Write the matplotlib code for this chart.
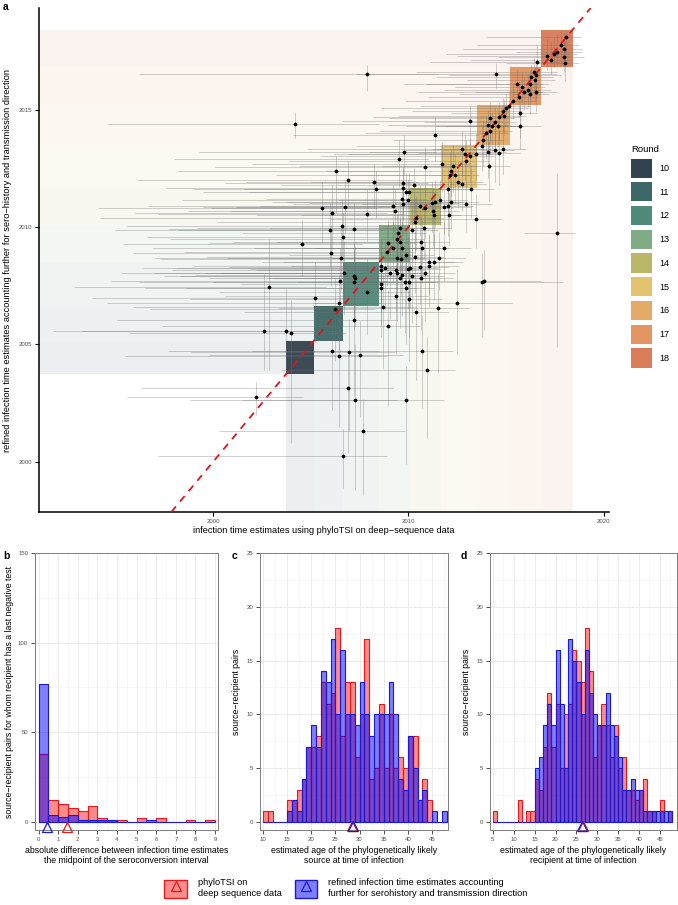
import numpy as np
import matplotlib
matplotlib.use("Agg")
from matplotlib import pyplot as plt
from matplotlib.patches import Rectangle, Patch
from matplotlib.lines import Line2D
from matplotlib.legend_handler import HandlerTuple

plt.rcParams['font.family'] = ['Liberation Sans', 'DejaVu Sans']

# survey rounds: calendar window of each round
rounds = ['10', '11', '12', '13', '14', '15', '16', '17', '18']
round_start = [2003.75, 2005.15, 2006.65, 2008.5, 2010.1, 2011.65, 2013.5, 2015.2, 2016.8]
round_end = [2005.15, 2006.65, 2008.5, 2010.1, 2011.65, 2013.5, 2015.2, 2016.8, 2018.4]
round_colors = ['#33434F', '#3E6867', '#4F8A7B', '#80AC85', '#BAB76A',
                '#E5C26F', '#E4AA68', '#E29560', '#D87D58']

# panel a: phyloTSI estimate (x) vs refined estimate (y), with intervals
tsi_mid = [
    2018.06, 2017.80, 2017.97, 2017.45, 2017.60, 2017.07, 2017.95, 2018.00, 2017.30, 2016.60,
    2014.50, 2007.90, 2016.40, 2016.55, 2016.27, 2016.47, 2016.20, 2015.53, 2015.80, 2016.13,
    2016.52, 2015.90, 2016.24, 2015.67, 2015.36, 2015.16, 2015.70, 2015.70, 2015.00, 2014.85,
    2014.90, 2014.65, 2014.17, 2013.15, 2014.42, 2014.05, 2014.30, 2014.60, 2014.17, 2013.97,
    2013.80, 2011.38, 2004.19, 2013.74, 2014.42, 2014.05, 2014.65, 2014.85, 2013.45, 2012.75,
    2012.90, 2014.13, 2013.15, 2012.97, 2011.70, 2012.30, 2012.20, 2012.12, 2012.38, 2012.55,
    2012.75, 2013.20, 2012.03, 2010.87, 2009.78, 2009.50, 2006.28, 2006.90, 2008.24, 2008.36,
    2009.73, 2009.73, 2010.30, 2009.85, 2010.05, 2009.65, 2010.00, 2009.22, 2009.30, 2009.73,
    2010.60, 2010.86, 2011.20, 2011.35, 2011.60, 2011.80, 2012.00, 2012.20, 2012.94, 2011.24,
    2011.32, 2012.07, 2013.45, 2010.41, 2010.33, 2010.80, 2010.16, 2007.86, 2005.60, 2006.10,
    2006.75, 2007.20, 2006.60, 2006.00, 2006.67, 2006.04, 2006.57, 2004.55, 2017.60, 2009.57,
    2009.48, 2009.40, 2009.57, 2008.97, 2009.22, 2009.65, 2008.92, 2009.40, 2009.60, 2009.90,
    2010.64, 2010.67, 2011.80, 2011.07, 2011.32, 2011.56, 2010.33, 2010.60, 2010.08, 2008.80,
    2008.62, 2006.70, 2007.20, 2007.27, 2007.20, 2006.50, 2005.20, 2007.86, 2008.62, 2008.62,
    2008.62, 2009.36, 2009.40, 2009.05, 2009.65, 2009.57, 2010.00, 2010.16, 2009.80, 2010.03,
    2009.87, 2010.62, 2010.84, 2011.05, 2008.72, 2009.36, 2010.03, 2010.38, 2011.53, 2012.50,
    2013.74, 2013.87, 2008.93, 2007.20, 2006.46, 2006.24, 2006.10, 2006.46, 2006.96, 2007.52,
    2010.70, 2010.93, 2006.92, 2007.26, 2009.90, 2007.69, 2006.63, 2002.88, 2002.60, 2003.73,
    2003.97, 2002.20]
tsi_lo = [
    2014.0, 2013.5, 2012.8, 2011.9, 2015.5, 2012.5, 2014.6, 2015.0, 2013.2, 2011.1,
    2007.3, 1996.2, 2010.4, 2012.0, 2011.4, 2013.0, 2010.9, 2009.7, 2012.4, 2011.8,
    2013.4, 2010.5, 2012.6, 2011.0, 2009.9, 2010.6, 2012.2, 2011.9, 2008.6, 2010.2,
    2009.5, 2008.2, 2009.0, 2006.6, 2010.8, 2008.9, 2009.9, 2011.4, 2008.5, 2007.8,
    2009.2, 2004.1, 1994.6, 2007.3, 2009.8, 2008.0, 2010.5, 2011.2, 2006.2, 2004.8,
    2006.9, 2008.7, 2005.5, 2003.9, 2002.0, 2004.4, 2005.8, 2003.2, 2007.0, 2005.0,
    2008.2, 2006.3, 2001.6, 2000.1, 1999.3, 1998.0, 1998.2, 1996.1, 2001.7, 1999.0,
    2000.6, 1997.6, 2003.5, 1999.5, 2001.8, 2002.7, 1998.4, 1996.7, 2000.9, 2004.1,
    2002.4, 1999.9, 2004.9, 2003.0, 2006.4, 2001.2, 2005.7, 2003.8, 2007.6, 1998.7,
    2002.2, 2004.5, 2006.0, 1994.2, 2000.2, 2002.9, 1995.0, 1997.2, 1994.1, 1996.0,
    1999.5, 1997.7, 1995.6, 1998.2, 1996.6, 1995.9, 1997.0, 1995.4, 2015.9, 1999.2,
    2001.5, 1997.8, 2003.3, 1999.8, 1996.9, 2002.1, 1998.5, 2000.7, 1997.3, 2003.9,
    2001.0, 2004.6, 2005.2, 2002.5, 2003.6, 2006.1, 1999.7, 2000.8, 1998.1, 1996.4,
    1999.0, 1995.3, 1997.5, 1999.8, 1996.2, 1994.8, 1993.8, 2000.3, 1997.9, 2001.4,
    1998.6, 2002.2, 1997.0, 2000.4, 1999.1, 2003.0, 2001.9, 1998.3, 2000.0, 2004.3,
    1996.5, 2002.8, 1999.6, 2004.0, 1995.9, 2000.6, 1998.8, 2001.6, 2003.4, 2005.1,
    2008.3, 2006.8, 1997.4, 1995.1, 1994.6, 1996.8, 1997.7, 1995.5, 1998.9, 1999.8,
    2002.0, 2003.5, 1996.3, 1998.8, 2001.5, 2000.3, 1997.2, 1992.9, 1991.8, 1993.3,
    1995.7, 1995.6]
tsi_hi = [
    2018.9, 2018.7, 2018.9, 2018.6, 2018.9, 2018.3, 2019.0, 2018.7, 2018.4, 2018.1,
    2017.6, 2011.5, 2017.6, 2017.8, 2017.4, 2017.5, 2017.2, 2016.9, 2017.0, 2017.3,
    2017.6, 2016.9, 2017.2, 2016.6, 2016.5, 2016.2, 2016.6, 2016.8, 2016.1, 2015.8,
    2016.0, 2015.7, 2015.4, 2014.8, 2015.5, 2015.2, 2015.6, 2015.9, 2015.3, 2015.1,
    2014.9, 2013.6, 2008.5, 2014.9, 2015.4, 2015.0, 2015.7, 2016.0, 2014.6, 2014.2,
    2014.3, 2015.2, 2014.4, 2014.1, 2013.2, 2013.5, 2013.4, 2013.2, 2013.6, 2013.8,
    2014.0, 2014.4, 2013.1, 2012.2, 2011.4, 2011.0, 2009.5, 2010.2, 2010.5, 2010.9,
    2011.0, 2011.2, 2011.6, 2011.3, 2011.5, 2010.9, 2011.4, 2010.7, 2010.8, 2011.1,
    2012.0, 2012.3, 2012.6, 2012.8, 2013.0, 2013.2, 2013.3, 2013.6, 2014.3, 2012.6,
    2012.7, 2013.5, 2014.8, 2011.8, 2011.7, 2012.2, 2011.5, 2009.9, 2008.4, 2008.9,
    2009.3, 2009.8, 2009.1, 2008.7, 2009.3, 2008.9, 2009.4, 2007.6, 2018.5, 2011.1,
    2010.9, 2010.8, 2010.9, 2010.4, 2010.6, 2011.0, 2010.3, 2010.8, 2011.0, 2011.3,
    2012.1, 2012.0, 2013.2, 2012.4, 2012.8, 2012.9, 2011.8, 2012.0, 2011.5, 2010.3,
    2010.1, 2009.0, 2009.4, 2009.5, 2009.3, 2008.9, 2007.7, 2010.1, 2010.3, 2010.2,
    2010.4, 2010.9, 2010.8, 2010.6, 2011.0, 2011.1, 2011.6, 2011.8, 2011.3, 2011.5,
    2011.3, 2012.3, 2012.4, 2012.6, 2010.4, 2011.0, 2011.7, 2012.0, 2013.1, 2015.3,
    2017.9, 2016.8, 2010.6, 2009.4, 2008.6, 2008.3, 2008.5, 2008.9, 2009.3, 2009.7,
    2012.3, 2012.4, 2009.2, 2009.4, 2011.8, 2009.8, 2008.9, 2005.8, 2005.4, 2006.3,
    2006.8, 2004.6]
ref_mid = [
    2018.07, 2017.75, 2017.57, 2017.36, 2017.45, 2017.28, 2017.22, 2016.98, 2017.10, 2017.03,
    2016.50, 2016.50, 2016.60, 2016.47, 2016.37, 2016.26, 2016.10, 2016.09, 2015.97, 2015.83,
    2015.76, 2015.73, 2015.66, 2015.55, 2015.35, 2015.14, 2014.84, 2014.29, 2015.05, 2014.94,
    2014.72, 2014.67, 2014.62, 2014.50, 2014.45, 2014.34, 2014.29, 2014.30, 2014.10, 2014.00,
    2013.70, 2013.90, 2014.38, 2013.45, 2013.28, 2013.18, 2013.14, 2013.32, 2013.10, 2013.30,
    2013.10, 2012.60, 2013.00, 2012.80, 2012.70, 2012.58, 2012.37, 2012.23, 2012.23, 2011.90,
    2011.83, 2011.60, 2011.60, 2012.54, 2013.18, 2012.90, 2012.38, 2012.00, 2011.93, 2011.60,
    2011.87, 2011.65, 2011.77, 2011.47, 2011.47, 2011.20, 2011.15, 2010.90, 2010.70, 2010.98,
    2010.90, 2010.80, 2011.00, 2011.08, 2011.15, 2010.84, 2010.90, 2011.05, 2010.97, 2010.66,
    2010.51, 2010.50, 2010.34, 2010.39, 2010.20, 2009.97, 2009.87, 2010.55, 2010.80, 2010.60,
    2010.84, 2009.90, 2010.04, 2009.87, 2009.56, 2008.90, 2008.67, 2009.28, 2009.73, 2009.97,
    2009.73, 2009.47, 2009.35, 2009.30, 2009.10, 2009.10, 2008.92, 2008.70, 2008.64, 2008.80,
    2009.37, 2009.10, 2009.10, 2008.52, 2008.52, 2008.70, 2008.74, 2008.30, 2008.27, 2008.25,
    2008.36, 2008.06, 2007.90, 2007.82, 2007.65, 2007.70, 2006.97, 2007.22, 2008.17, 2007.57,
    2007.39, 2008.17, 2008.06, 2008.06, 2007.96, 2007.82, 2008.20, 2007.91, 2007.67, 2007.65,
    2007.39, 2007.82, 2008.06, 2008.34, 2006.61, 2007.05, 2006.94, 2006.37, 2006.54, 2006.76,
    2007.66, 2007.70, 2005.79, 2006.04, 2006.75, 2006.50, 2004.72, 2004.49, 2004.70, 2004.55,
    2004.72, 2003.90, 2003.16, 2002.64, 2002.64, 2001.32, 2000.26, 2007.46, 2005.57, 2005.57,
    2005.47, 2002.75]
ref_lo = [
    2017.4, 2017.0, 2016.9, 2016.8, 2016.9, 2016.7, 2016.6, 2016.2, 2016.5, 2016.4,
    2015.9, 2015.8, 2015.8, 2015.5, 2015.6, 2015.3, 2015.4, 2015.3, 2015.2, 2015.1,
    2014.9, 2015.0, 2014.8, 2014.7, 2014.6, 2014.4, 2013.8, 2013.3, 2014.3, 2014.1,
    2013.9, 2013.7, 2013.6, 2013.5, 2013.4, 2013.3, 2013.2, 2013.4, 2013.1, 2012.9,
    2012.6, 2012.8, 2013.8, 2012.4, 2011.9, 2012.1, 2011.8, 2012.2, 2012.0, 2012.2,
    2012.0, 2011.1, 2011.9, 2011.7, 2011.5, 2011.5, 2011.3, 2011.1, 2011.0, 2010.8,
    2010.7, 2010.4, 2010.5, 2011.3, 2012.2, 2011.7, 2010.6, 2010.9, 2010.8, 2010.4,
    2010.6, 2010.3, 2010.4, 2010.1, 2010.1, 2010.0, 2009.9, 2009.6, 2009.4, 2009.7,
    2009.6, 2009.5, 2009.8, 2010.0, 2010.1, 2009.7, 2009.6, 2009.9, 2009.8, 2009.2,
    2009.1, 2009.2, 2009.1, 2009.0, 2008.9, 2008.7, 2008.5, 2009.4, 2009.3, 2009.0,
    2009.7, 2008.5, 2008.7, 2008.3, 2008.1, 2007.5, 2007.3, 2007.9, 2004.9, 2008.6,
    2008.4, 2008.1, 2008.0, 2007.9, 2007.6, 2007.7, 2007.5, 2007.2, 2007.1, 2007.4,
    2007.9, 2007.6, 2007.7, 2007.1, 2006.9, 2007.3, 2007.2, 2006.7, 2006.6, 2006.5,
    2006.8, 2006.3, 2006.0, 2005.8, 2005.6, 2005.9, 2005.1, 2005.4, 2006.4, 2005.8,
    2005.3, 2006.4, 2006.0, 2006.1, 2006.2, 2005.7, 2006.5, 2005.9, 2005.5, 2005.3,
    2005.0, 2005.6, 2006.0, 2006.6, 2004.0, 2004.6, 2004.3, 2003.5, 2003.8, 2004.6,
    2005.3, 2005.6, 2002.4, 2002.8, 2004.7, 2004.3, 2002.2, 2001.5, 2001.3, 2001.9,
    2002.3, 2001.0, 2000.4, 1998.8, 1999.9, 1998.6, 1998.9, 2003.9, 2003.9, 2003.6,
    2000.8, 2002.0]
ref_hi = [
    2018.4, 2018.4, 2018.3, 2018.1, 2018.2, 2018.0, 2018.1, 2017.9, 2017.9, 2017.7,
    2017.0, 2016.9, 2017.2, 2017.0, 2016.9, 2016.8, 2016.7, 2016.7, 2016.6, 2016.5,
    2016.6, 2016.4, 2016.3, 2016.2, 2016.0, 2015.8, 2015.5, 2015.2, 2015.7, 2015.5,
    2015.4, 2015.3, 2015.3, 2015.2, 2015.1, 2015.0, 2014.9, 2015.0, 2014.8, 2014.7,
    2014.5, 2014.7, 2014.9, 2014.3, 2014.2, 2014.0, 2014.1, 2014.3, 2014.0, 2014.1,
    2013.9, 2013.6, 2013.8, 2013.7, 2013.6, 2013.5, 2013.3, 2013.2, 2013.1, 2012.8,
    2012.8, 2012.6, 2012.5, 2013.4, 2013.9, 2013.7, 2013.0, 2012.8, 2012.7, 2012.4,
    2012.6, 2012.5, 2012.5, 2012.3, 2012.3, 2012.0, 2012.0, 2011.8, 2011.6, 2011.9,
    2011.8, 2011.7, 2011.9, 2012.0, 2012.0, 2011.8, 2011.8, 2012.0, 2011.9, 2011.6,
    2011.5, 2011.5, 2011.4, 2011.3, 2011.2, 2011.0, 2010.9, 2011.6, 2011.9, 2011.8,
    2011.9, 2011.0, 2011.2, 2011.0, 2010.6, 2010.1, 2009.9, 2010.3, 2012.3, 2011.0,
    2010.8, 2010.5, 2010.4, 2010.3, 2010.2, 2010.2, 2010.0, 2009.8, 2009.7, 2009.9,
    2010.5, 2010.3, 2010.2, 2009.7, 2009.7, 2009.8, 2009.8, 2009.5, 2009.4, 2009.4,
    2009.5, 2009.4, 2009.3, 2009.2, 2009.0, 2009.1, 2008.5, 2008.7, 2009.5, 2009.0,
    2008.8, 2009.5, 2009.4, 2009.4, 2009.3, 2009.2, 2009.6, 2009.3, 2009.1, 2009.0,
    2008.9, 2009.2, 2009.4, 2009.6, 2008.0, 2008.4, 2008.3, 2007.8, 2008.0, 2008.2,
    2008.9, 2009.0, 2007.3, 2007.4, 2008.0, 2007.8, 2006.1, 2005.9, 2006.1, 2006.0,
    2006.2, 2005.3, 2004.6, 2005.0, 2004.1, 2002.7, 2001.4, 2009.5, 2008.0, 2007.4,
    2006.9, 2003.4]

# panel b: absolute difference to seroconversion midpoint (bins of 0.5 years)
diff_bin = [0.0, 0.5, 1.0, 1.5, 2.0, 2.5, 3.0, 3.5, 4.0, 4.5, 5.0, 5.5, 6.0, 6.5, 7.0, 7.5, 8.0, 8.5]
diff_tsi = [38, 12, 10, 8, 6, 9, 2, 1, 1, 0, 2, 0, 2, 0, 0, 1, 0, 1]
diff_ref = [77, 4, 3, 4, 1, 1, 1, 1, 0, 0, 0, 1, 0, 0, 0, 0, 0, 0]
diff_med = {'tsi': 1.46, 'ref': 0.41}

# panel c: age of source at infection (1-year bins)
src_age = [10, 11, 12, 13, 14, 15, 16, 17, 18, 19, 20, 21, 22, 23, 24, 25, 26, 27, 28,
           29, 30, 31, 32, 33, 34, 35, 36, 37, 38, 39, 40, 41, 42, 43, 44, 45, 46, 47]
src_tsi = [1, 1, 0, 0, 0, 2, 2, 3, 4, 7, 7, 8, 13, 11, 12, 18, 8, 13, 13,
           6, 10, 17, 4, 5, 11, 5, 10, 5, 6, 5, 8, 8, 2, 4, 2, 0, 0, 0]
src_ref = [0, 0, 0, 0, 0, 1, 2, 1, 4, 7, 9, 7, 14, 13, 17, 10, 16, 10, 10,
           9, 13, 10, 8, 10, 10, 10, 13, 10, 4, 3, 8, 5, 2, 3, 0, 1, 0, 1]
src_med = {'tsi': 28.4, 'ref': 28.6}

# panel d: age of recipient at infection (1-year bins)
rec_age = [5, 6, 7, 8, 9, 10, 11, 12, 13, 14, 15, 16, 17, 18, 19, 20, 21, 22, 23, 24, 25, 26,
           27, 28, 29, 30, 31, 32, 33, 34, 35, 36, 37, 38, 39, 40, 41, 42, 43, 44, 45, 46, 47]
rec_tsi = [1, 0, 0, 0, 0, 0, 2, 0, 1, 1, 4, 3, 7, 12, 7, 11, 5, 10, 11, 16, 15, 13,
           18, 14, 6, 9, 11, 9, 6, 9, 5, 6, 3, 3, 2, 3, 4, 1, 1, 0, 2, 0, 1]
rec_ref = [0, 0, 0, 0, 0, 0, 0, 0, 0, 0, 5, 6, 9, 11, 9, 16, 11, 5, 17, 15, 13, 10,
           16, 12, 10, 9, 9, 12, 9, 8, 6, 3, 3, 4, 3, 3, 1, 1, 1, 1, 1, 1, 1]
rec_med = {'tsi': 26.6, 'ref': 26.4}

RED = '#E31A1C'
BLUE = '#1A1ACC'
RED_FILL = (1.0, 0.0, 0.0, 0.45)
BLUE_FILL = (0.0, 0.0, 1.0, 0.5)
TICK_C = '#4D4D4D'

W, H = 678, 905
fig = plt.figure(figsize=(W / 100, H / 100), dpi=100)


def box(l, t, r, b):
    return [l / W, 1 - b / H, (r - l) / W, (b - t) / H]


# ---------------- panel a ----------------
ax = fig.add_axes(box(39, 8, 609, 512))
xmin, xmax = 1991.1, 2020.26
ymin, ymax = 1997.87, 2019.32
ax.set_xlim(xmin, xmax)
ax.set_ylim(ymin, ymax)

for s, e, c in zip(round_start, round_end, round_colors):
    ax.add_patch(Rectangle((xmin, s), e - xmin, e - s, facecolor=c, alpha=0.09, lw=0, zorder=0))
    ax.add_patch(Rectangle((s, ymin), e - s, e - ymin, facecolor=c, alpha=0.09, lw=0, zorder=0))
for s, e, c in zip(round_start, round_end, round_colors):
    ax.add_patch(Rectangle((s, s), e - s, e - s, facecolor=c, alpha=0.95, lw=0, zorder=1))

ax.hlines(ref_mid, tsi_lo, tsi_hi, colors='#707070', alpha=0.38, lw=0.6, zorder=2)
ax.vlines(tsi_mid, ref_lo, ref_hi, colors='#707070', alpha=0.38, lw=0.6, zorder=2)
ax.axline((2000, 2000), slope=1, color='#D7191C', lw=1.3, ls=(0, (4, 3.5)), zorder=3)
ax.plot(tsi_mid, ref_mid, 'o', color='black', ms=2.7, mew=0, zorder=4)

ax.spines['top'].set_visible(False)
ax.spines['right'].set_visible(False)
for sp in ('left', 'bottom'):
    ax.spines[sp].set_linewidth(1.1)
ax.set_xticks([2000, 2010, 2020])
ax.set_yticks([2000, 2005, 2010, 2015])
ax.tick_params(length=3, width=0.8, labelsize=4.3, labelcolor=TICK_C, pad=2)
ax.set_xlabel('infection time estimates using phyloTSI on deep\u2212sequence data', fontsize=6.6)
ax.xaxis.set_label_coords(0.5, -0.028)
ax.set_ylabel('refined infection time estimates accounting further for sero\u2212history and transmission direction',
              fontsize=6.7)
ax.yaxis.set_label_coords(-0.048, 0.5)

round_handles = [Patch(facecolor=c, edgecolor='none') for c in round_colors]
leg = fig.legend(round_handles, rounds, title='Round', loc='upper left',
                 bbox_to_anchor=(631 / W, 1 - 145 / H), frameon=False, fontsize=6.5,
                 title_fontsize=6.8, handlelength=2.3, handleheight=2.9, labelspacing=0.5,
                 handletextpad=0.8, borderpad=0, borderaxespad=0, alignment='left')

fig.text(3 / W, 1 - 2 / H, 'a', fontsize=7.5, fontweight='bold', va='top', ha='left')


# ---------------- panels b, c, d ----------------
def hist_panel(rect, bins, width, tsi, ref, med, xlim, ylim, xticks, yticks, xminor, yminor,
               tri_y, xlabel, ylabel, ylab_x):
    a = fig.add_axes(rect)
    a.set_xlim(*xlim)
    a.set_ylim(*ylim)
    a.set_xticks(xticks)
    a.set_yticks(yticks)
    a.set_xticks(xminor, minor=True)
    a.set_yticks(yminor, minor=True)
    a.grid(True, which='major', color='#EBEBEB', lw=0.7)
    a.grid(True, which='minor', color='#F2F2F2', lw=0.4)
    a.set_axisbelow(True)
    a.bar(bins, tsi, width=width, align='edge', facecolor=RED_FILL, edgecolor=RED, lw=0.8, zorder=2)
    a.bar(bins, ref, width=width, align='edge', facecolor=BLUE_FILL, edgecolor=BLUE, lw=0.8, zorder=3)
    a.plot([med['tsi']], [tri_y], marker='^', mfc='none', mec=RED, ms=7, mew=0.9,
           ls='none', clip_on=False, zorder=4)
    a.plot([med['ref']], [tri_y], marker='^', mfc='none', mec=BLUE, ms=7, mew=0.9,
           ls='none', clip_on=False, zorder=5)
    for sp in a.spines.values():
        sp.set_color('#7F7F7F')
        sp.set_linewidth(0.7)
    a.tick_params(which='major', length=3, width=0.6, color='#333333',
                  labelsize=4.3, labelcolor=TICK_C, pad=2)
    a.tick_params(which='minor', length=0)
    a.set_xlabel(xlabel, fontsize=6.3, linespacing=1.15)
    a.xaxis.set_label_coords(0.5, -0.056)
    a.set_ylabel(ylabel, fontsize=6.3)
    a.yaxis.set_label_coords(ylab_x, 0.5)
    return a


hist_panel(box(35, 553, 218, 830), diff_bin, 0.5, diff_tsi, diff_ref, diff_med,
           (-0.18, 9.15), (-4.5, 150), list(range(0, 10)), [0, 50, 100, 150],
           [0.5 + k for k in range(9)], [25, 75, 125], -2.6,
           'absolute difference between infection time estimates\nthe midpoint of the seroconversion interval',
           'source\u2212recipient pairs for whom recipient has a last negative test', -0.115)

hist_panel(box(260, 553, 448, 830), src_age, 1.0, src_tsi, src_ref, src_med,
           (9.4, 48.3), (-0.75, 25), [10, 15, 20, 25, 30, 35, 40, 45], [0, 5, 10, 15, 20, 25],
           [12.5, 17.5, 22.5, 27.5, 32.5, 37.5, 42.5, 47.5], [2.5, 7.5, 12.5, 17.5, 22.5], -0.42,
           'estimated age of the phylogenetically likely\nsource at time of infection',
           'source\u2212recipient pairs', -0.1)

hist_panel(box(490, 553, 677, 830), rec_age, 1.0, rec_tsi, rec_ref, rec_med,
           (4.3, 49.1), (-0.75, 25), [5, 10, 15, 20, 25, 30, 35, 40, 45], [0, 5, 10, 15, 20, 25],
           [7.5, 12.5, 17.5, 22.5, 27.5, 32.5, 37.5, 42.5, 47.5], [2.5, 7.5, 12.5, 17.5, 22.5], -0.42,
           'estimated age of the phylogenetically likely\nrecipient at time of infection',
           'source\u2212recipient pairs', -0.1)

fig.text(3 / W, 1 - 551 / H, 'b', fontsize=7.5, fontweight='bold', va='top', ha='left')
fig.text(232 / W, 1 - 551 / H, 'c', fontsize=7.5, fontweight='bold', va='top', ha='left')
fig.text(461 / W, 1 - 551 / H, 'd', fontsize=7.5, fontweight='bold', va='top', ha='left')

# bottom legend
h_tsi = (Patch(facecolor=RED_FILL, edgecolor=RED, lw=1.0),
         Line2D([], [], marker='^', mfc='none', mec=RED, ms=7, mew=0.9, ls='none'))
h_ref = (Patch(facecolor=BLUE_FILL, edgecolor=BLUE, lw=1.0),
         Line2D([], [], marker='^', mfc='none', mec=BLUE, ms=7, mew=0.9, ls='none'))
fig.legend([h_tsi, h_ref],
           ['phyloTSI on\ndeep sequence data',
            'refined infection time estimates accounting\nfurther for serohistory and transmission direction'],
           handler_map={tuple: HandlerTuple(ndivide=1, pad=0)}, ncol=2, loc='center',
           bbox_to_anchor=(346 / W, 1 - 888 / H), frameon=False, fontsize=6.7,
           handlelength=2.4, handleheight=2.6, handletextpad=1.2, columnspacing=1.4,
           borderpad=0, borderaxespad=0)

fig.savefig('out.png', dpi=100)
